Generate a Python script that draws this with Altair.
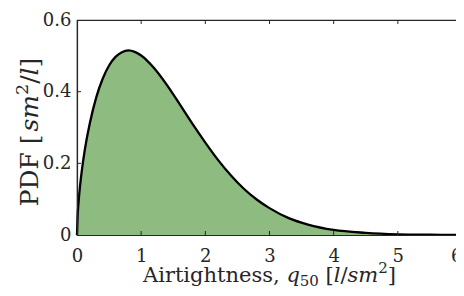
import altair as alt
import pandas as pd

# Values
airtightness = [0, 0.01, 0.02, 0.05, 0.1, 0.15, 0.2, 0.3, 0.4, 0.5, 0.6, 0.7, 0.8, 0.9,
                1.0, 1.2, 1.4, 1.6, 1.8, 2.0, 2.2, 2.4, 2.6, 2.8, 3.0, 3.3, 3.6, 4.0,
                4.5, 5.0, 5.5, 6.0]
pdf_values = [0, 0.054, 0.082, 0.141, 0.212, 0.267, 0.312, 0.384, 0.436, 0.473, 0.497,
              0.510, 0.515, 0.511, 0.501, 0.466, 0.419, 0.365, 0.310, 0.258, 0.209,
              0.166, 0.129, 0.099, 0.075, 0.047, 0.029, 0.014, 0.006, 0.002, 0.0007,
              0.0002]
x_ticks = [0, 1, 2, 3, 4, 5, 6]
y_ticks = [0, 0.2, 0.4, 0.6]

# axis titles as (text, style) pieces: r = roman, i = italic, sub / sup = small roman
x_title = [("Airtightness, ", "r"), ("q", "i"), ("50", "sub"), (" [", "r"),
           ("l", "i"), ("/", "r"), ("sm", "i"), ("2", "sup"), ("]", "r")]
y_title = [("PDF [", "r"), ("sm", "i"), ("2", "sup"), ("/", "r"), ("l", "i"), ("]", "r")]

W, H = 385, 215
SERIF = "DejaVu Serif"
INK = "#262626"

# approximate advance widths (em) of DejaVu Serif, used to place title pieces
EM = {"A": .722, "i": .320, "r": .478, "t": .402, "g": .640, "h": .644, "n": .644,
      "e": .592, "s": .514, ",": .318, " ": .318, "q": .640, "0": .636, "5": .636,
      "2": .636, "[": .390, "]": .390, "l": .320, "/": .337, "m": .948,
      "P": .732, "D": .830, "F": .720}


def text_width(t, size):
    return sum(EM.get(c, .6) for c in t) * size


df = pd.DataFrame({"q": airtightness, "pdf": pdf_values})
xt = pd.DataFrame({"t": x_ticks[1:-1]})
yt = pd.DataFrame({"t": y_ticks[1:-1]})
dummy = pd.DataFrame({"k": [0]})

xscale = alt.Scale(domain=[0, 6], nice=False, zero=False)
yscale = alt.Scale(domain=[0, 0.6], nice=False)

xaxis = alt.Axis(values=x_ticks, format="~g", ticks=False, tickSize=0, grid=False,
                 domain=True, domainColor=INK, domainWidth=1.2, zindex=1,
                 labelFont=SERIF, labelFontSize=18, labelColor=INK, labelPadding=26,
                 labelBaseline="alphabetic", labelFlush=False,
                 labelAlign={"expr": f"datum.value == {x_ticks[-1]} ? 'right' : 'center'"},
                 title=None)
yaxis = alt.Axis(values=y_ticks, format="~g", ticks=False, tickSize=0, grid=False,
                 domain=True, domainColor=INK, domainWidth=1.2, zindex=1,
                 labelFont=SERIF, labelFontSize=18, labelColor=INK, labelPadding=6,
                 labelFlush=False, title=None)

area = alt.Chart(df).mark_area(color="#8EBB80", opacity=1, interpolate="monotone").encode(
    x=alt.X("q:Q", scale=xscale, axis=xaxis),
    y=alt.Y("pdf:Q", scale=yscale, axis=yaxis),
)
line = alt.Chart(df).mark_line(color="black", strokeWidth=2.3, interpolate="monotone").encode(
    x=alt.X("q:Q", scale=xscale),
    y=alt.Y("pdf:Q", scale=yscale),
)

tick_style = dict(color=INK, strokeWidth=1)
bottom_ticks = alt.Chart(xt).mark_rule(**tick_style).encode(
    x=alt.X("t:Q", scale=xscale), y=alt.value(H), y2=alt.value(H - 4))
top_ticks = alt.Chart(xt).mark_rule(**tick_style).encode(
    x=alt.X("t:Q", scale=xscale), y=alt.value(0), y2=alt.value(4))
left_ticks = alt.Chart(yt).mark_rule(**tick_style).encode(
    y=alt.Y("t:Q", scale=yscale), x=alt.value(0), x2=alt.value(4))
right_ticks = alt.Chart(yt).mark_rule(**tick_style).encode(
    y=alt.Y("t:Q", scale=yscale), x=alt.value(W), x2=alt.value(W - 4))


def piece_width(text, style, size, small):
    fs = small if style in ("sub", "sup") else size
    return text_width(text, fs)


def title_pieces(pieces, size, small, along0, base, horizontal):
    layers = []
    pos = along0
    sign = 1 if horizontal else -1
    for text, style in pieces:
        fs = small if style in ("sub", "sup") else size
        shift = {"sub": 4, "sup": -0.42 * size}.get(style, 0)
        lead = len(text) - len(text.lstrip(" "))
        pos += sign * lead * EM[" "] * fs
        body = text.strip(" ")
        mark = alt.Chart(dummy).mark_text(
            text=body, font=SERIF, fontSize=fs,
            fontStyle="italic" if style == "i" else "normal",
            align="left", baseline="alphabetic", color=INK,
            angle=0 if horizontal else 270)
        if horizontal:
            layers.append(mark.encode(x=alt.value(pos), y=alt.value(base + shift)))
        else:
            layers.append(mark.encode(x=alt.value(base + shift), y=alt.value(pos)))
        pos += sign * text_width(text.lstrip(" "), fs)
    return layers


xs, xss = 21, 15
x_total = sum(piece_width(t, s, xs, xss) for t, s in x_title)
x_layers = title_pieces(x_title, xs, xss, W / 2 - x_total / 2, 262, True)

ys, yss = 25, 17.5
y_total = sum(piece_width(t, s, ys, yss) for t, s in y_title)
y_layers = title_pieces(y_title, ys, yss, 112 + y_total / 2, -39, False)

chart = alt.layer(area, line, bottom_ticks, top_ticks, left_ticks, right_ticks,
                  *x_layers, *y_layers).properties(
    width=W, height=H,
    autosize=alt.AutoSizeParams(type="none"),
    padding={"left": 69, "top": 12, "right": -6, "bottom": 53},
).configure_view(stroke=INK, strokeWidth=1.2)

chart.save("out.html", embed_options={"renderer": "svg", "actions": False})
